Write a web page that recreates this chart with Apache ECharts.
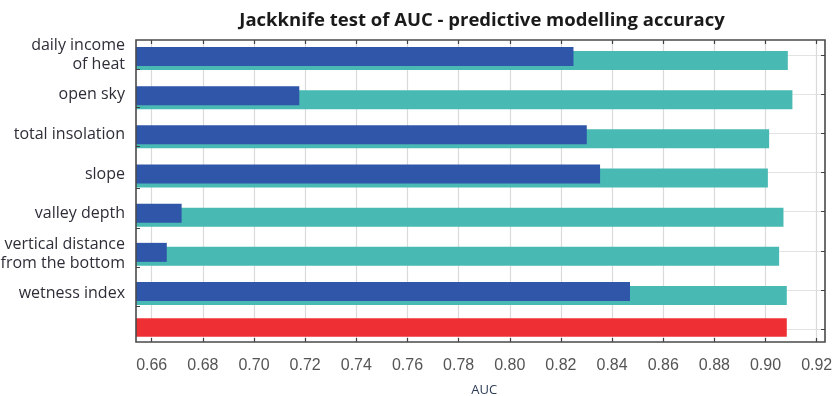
<!DOCTYPE html>
<html><head><meta charset="utf-8">
<script src="https://cdn.jsdelivr.net/npm/echarts@6/dist/echarts.min.js"></script>
<style>html,body{margin:0;padding:0;background:#fff}#c{width:834px;height:396px}</style>
</head><body><div id="c"></div>
<script>
// ---- data ----
const variables = ['daily income\nof heat', 'open sky', 'total insolation', 'slope', 'valley depth', 'vertical distance\nfrom the bottom', 'wetness index'];
const withoutVariable = [0.9087, 0.9105, 0.9014, 0.9009, 0.9070, 0.9053, 0.9083];
const withOnlyVariable = [0.8249, 0.7177, 0.8301, 0.8353, 0.6717, 0.6659, 0.8470];
const allVariablesLabel = ['With all variables'];
const withAllVariables = [0.9083];
const xTickMin = 0.66, xTickMax = 0.92, xTickStep = 0.02;
const rowCenterTicks = [0, 1, 2, 3, 4, 5, 6, 7];
const rowLeftTicks = [0.365, 1.345, 2.34, 3.4, 4.42, 5.42, 6.41];

// ---- layout ----
const PL = 136, PW = 689, PT = 40, PH = 302;
const vMin = 0.65386, vMax = 0.92324;
const rowMin = -0.383, rowMax = 7.327;
const noAxis = { show: false };
const noLine = () => ({ show: false, onZero: false });
const gridBase = () => ({ outerBoundsMode: 'none', containLabel: false });

const chart = echarts.init(document.getElementById('c'), null, { renderer: 'canvas' });
chart.setOption({
  animation: false,
  backgroundColor: '#fff',
  title: {
    text: 'Jackknife test of AUC - predictive modelling accuracy',
    left: 477, top: 6, textAlign: 'center',
    textStyle: { fontFamily: 'Open Sans', fontWeight: 'bold', fontSize: 18.5, color: '#1a1a1a' }
  },
  grid: [
    Object.assign({ left: PL, top: PT, width: PW, height: PH, show: true, z: 10,
      borderColor: '#4a4a4a', borderWidth: 1.6, backgroundColor: 'transparent' }, gridBase()),  // 0 frame
    Object.assign({ left: 151.7, top: PT, width: 665, height: PH }, gridBase()),      // 1 x ticks
    Object.assign({ left: PL, top: 38.9, width: PW, height: 274.2 }, gridBase()),     // 2 bars
    Object.assign({ left: PL, top: 307.5, width: PW, height: 40 }, gridBase()),       // 3 red bar
    Object.assign({ left: PL, top: 34.8, width: PW, height: 278.4 }, gridBase())      // 4 labels
  ],
  xAxis: [
    { gridIndex: 0, type: 'value', min: vMin, max: vMax, show: false },
    { gridIndex: 1, type: 'value', position: 'bottom', min: xTickMin, max: xTickMax, interval: xTickStep, z: 0,
      axisLine: noLine(),
      axisTick: { show: true, inside: true, length: 4, lineStyle: { color: '#404040', width: 1.2 } },
      axisLabel: { show: true, fontFamily: 'Liberation Sans', fontSize: 16, color: '#555', margin: 16,
        formatter: v => v.toFixed(2) },
      splitLine: { show: true, lineStyle: { color: '#dadada', width: 1.2 } },
      name: 'AUC', nameLocation: 'middle', nameGap: 42,
      nameTextStyle: { fontFamily: 'Open Sans', fontSize: 13, color: '#2b3a58' } },
    { gridIndex: 1, type: 'value', position: 'top', min: xTickMin, max: xTickMax, interval: xTickStep, z: 0,
      axisLine: noLine(),
      axisTick: { show: true, inside: true, length: 4, lineStyle: { color: '#404040', width: 1.2 } },
      axisLabel: noAxis, splitLine: noAxis },
    { gridIndex: 2, type: 'value', min: vMin, max: vMax, show: false },
    { gridIndex: 3, type: 'value', min: vMin, max: vMax, show: false },
    { gridIndex: 4, type: 'value', min: vMin, max: vMax, show: false }
  ],
  yAxis: [
    { gridIndex: 0, type: 'value', position: 'right', inverse: true, min: rowMin, max: rowMax, z: 10,
      axisLine: noLine(),
      axisTick: { show: true, inside: true, length: 4, customValues: rowCenterTicks, lineStyle: { color: '#404040' } },
      axisLabel: noAxis, splitLine: noAxis },
    { gridIndex: 0, type: 'value', position: 'left', inverse: true, min: rowMin, max: rowMax, z: 10,
      axisLine: noLine(),
      axisTick: { show: true, inside: true, length: 4, customValues: rowLeftTicks, lineStyle: { color: '#404040' } },
      axisLabel: noAxis, splitLine: noAxis },
    { gridIndex: 0, type: 'value', position: 'right', inverse: true, min: rowMin, max: rowMax, z: 0,
      axisLine: noLine(), axisLabel: noAxis,
      axisTick: { show: false, customValues: rowCenterTicks },
      splitLine: { show: true, lineStyle: { color: '#e3e3e3' } } },
    { gridIndex: 1, type: 'value', show: false },
    { gridIndex: 2, type: 'category', inverse: true, data: variables, show: false },
    { gridIndex: 3, type: 'category', data: allVariablesLabel, show: false },
    { gridIndex: 4, type: 'category', inverse: true, data: variables,
      axisLine: noAxis, axisTick: noAxis, splitLine: noAxis,
      axisLabel: { show: true, margin: 11, fontFamily: 'Open Sans', fontSize: 16, lineHeight: 19, color: '#2e2e38', align: 'right' } }
  ],
  series: [
    { name: 'With only variable', type: 'bar', xAxisIndex: 3, yAxisIndex: 4, data: withOnlyVariable,
      barWidth: 19, barGap: '-79%', z: 3, itemStyle: { color: '#2f56a9' } },
    { name: 'Without variable', type: 'bar', xAxisIndex: 3, yAxisIndex: 4, data: withoutVariable,
      barWidth: 19, barGap: '-79%', z: 2, itemStyle: { color: '#48b9b3' } },
    { name: 'With all variables', type: 'bar', xAxisIndex: 4, yAxisIndex: 5, data: withAllVariables,
      barWidth: 18.5, z: 2, itemStyle: { color: '#ee3035' } }
  ]
});
</script></body></html>
